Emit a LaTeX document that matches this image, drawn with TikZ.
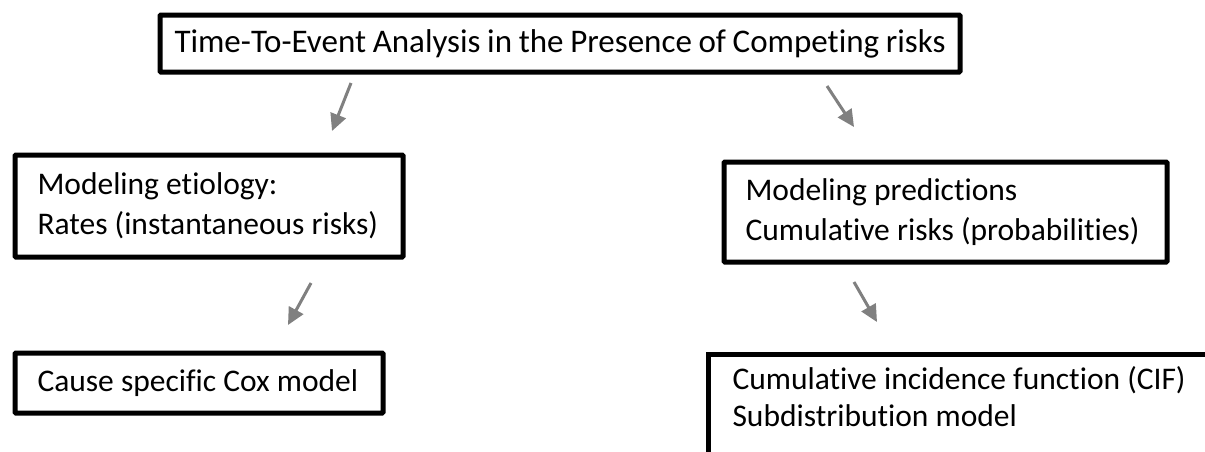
\documentclass[tikz,border=0pt]{standalone}
\usepackage{fontspec}
\setmainfont{Carlito}[Ligatures={NoCommon}]
\usetikzlibrary{arrows.meta}
\definecolor{arrowgray}{RGB}{128,128,128}
\newcommand{\boxtext}[4]{\parbox[c][#1][c]{#2}{\raggedright\fontsize{#3}{40}\selectfont #4}}
\begin{document}
\begin{tikzpicture}[x=1pt,y=-1pt,
  box/.style={draw=black, line width=5pt, anchor=north west,
    inner ysep=0pt, rounded corners=1pt, text=black},
  arr/.style={draw=arrowgray, line width=3pt, -{Triangle[length=17pt,width=16pt]}}]
\useasboundingbox (0,0) rectangle (1205,451);
\clip (0,0) rectangle (1205,451);
\fill[white] (0,0) rectangle (1205,451);

\node[box, inner xsep=14.5pt] (top) at (157.5,12.5)
  {\boxtext{57pt}{771pt}{33}{Time-To-Event Analysis in the Presence of Competing risks}};

\node[box, inner xsep=22.5pt] (etio) at (12.5,152.5)
  {\boxtext{102pt}{343pt}{31.5}{Modeling etiology:\\Rates (instantaneous risks)}};

\node[box, inner xsep=21.5pt] (pred) at (721.5,159.5)
  {\boxtext{100pt}{400pt}{31.5}{Modeling predictions\\Cumulative risks (probabilities)}};

\node[box, inner xsep=22.5pt] (cox) at (12.5,350.5)
  {\boxtext{60pt}{323pt}{31.5}{Cause specific Cox model}};

\node[box, inner xsep=24.5pt, rounded corners=0pt] (cif) at (705.5,351.5)
  {\parbox[t][130pt][t]{560pt}{\raggedright\fontsize{31.5}{37}\selectfont\vspace*{12pt}%
   Cumulative incidence function (CIF)\\Subdistribution model}};

\coordinate (a1s) at (351,83);  \coordinate (a1e) at (332,131);
\coordinate (a2s) at (827,86);  \coordinate (a2e) at (854,127);
\coordinate (a3s) at (311,283); \coordinate (a3e) at (288,325);
\coordinate (a4s) at (854,282); \coordinate (a4e) at (877,322);
\draw[arr] (a1s) -- (a1e);
\draw[arr] (a2s) -- (a2e);
\draw[arr] (a3s) -- (a3e);
\draw[arr] (a4s) -- (a4e);
\end{tikzpicture}
\end{document}
